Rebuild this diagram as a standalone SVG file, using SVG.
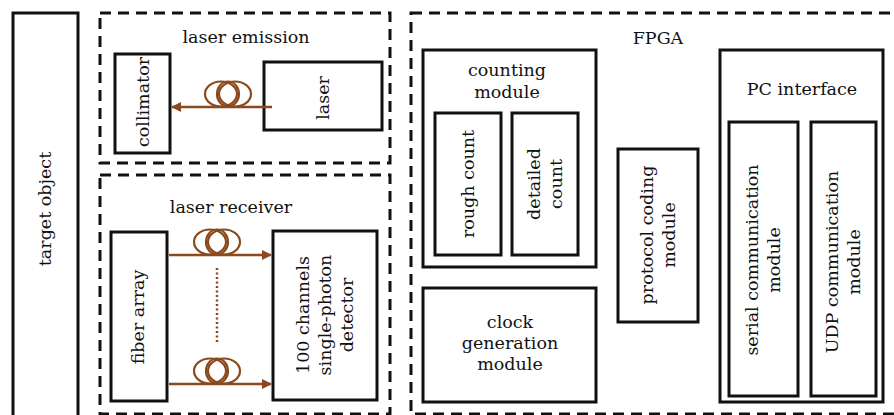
<svg xmlns="http://www.w3.org/2000/svg" width="894" height="415" viewBox="0 0 894 415">
<defs>
<style>
.box{fill:none;stroke:#111;stroke-width:3}
.dash{fill:none;stroke:#111;stroke-width:3;stroke-dasharray:11 7}
.t{font-family:"DejaVu Serif","Liberation Serif",serif;font-size:17.5px;fill:#111;text-anchor:middle}
.fib{fill:none;stroke:#8B4A1E;stroke-width:2.5}
.coil{fill:none;stroke:#8B4A1E;stroke-width:2.2}
</style>
<marker id="ah" viewBox="0 0 10 10" refX="9" refY="5" markerWidth="4" markerHeight="4" orient="auto" markerUnits="strokeWidth">
<path d="M0,0 L10,5 L0,10 z" fill="#8B4A1E"/>
</marker>
<g id="coilsym">
<ellipse class="coil" cx="-7" cy="0" rx="16" ry="12.5"/>
<ellipse class="coil" cx="0" cy="0" rx="11" ry="12.5"/>
<ellipse class="coil" cx="7" cy="0" rx="16" ry="12.5"/>
</g>
</defs>
<rect width="894" height="415" fill="#fff"/>

<g id="target">
<rect class="box" x="13" y="13" width="65" height="404"/>
<text class="t" transform="translate(45,209) rotate(-90)" y="6">target object</text>
</g>

<g id="laser-emission">
<rect class="dash" x="100" y="13" width="290" height="150"/>
<text class="t" x="246" y="43">laser emission</text>
</g>
<g id="collimator">
<rect class="box" x="115" y="54" width="55" height="99"/>
<text class="t" transform="translate(143,102) rotate(-90)" y="6">collimator</text>
</g>
<g id="laser">
<rect class="box" x="264" y="62" width="118" height="68"/>
<text class="t" transform="translate(323,98) rotate(-90)" y="6">laser</text>
</g>

<g id="laser-receiver">
<rect class="dash" x="100" y="175" width="290" height="239"/>
<text class="t" x="231" y="213">laser receiver</text>
</g>
<g id="fiber-array">
<rect class="box" x="111" y="232" width="56" height="169"/>
<text class="t" transform="translate(138,317) rotate(-90)" y="6">fiber array</text>
</g>
<g id="detector">
<rect class="box" x="273" y="231" width="104" height="169"/>
<text class="t" transform="translate(325,315) rotate(-90)"><tspan x="0" y="-16">100 channels</tspan><tspan x="0" y="6">single-photon</tspan><tspan x="0" y="28">detector</tspan></text>
</g>

<g id="fpga">
<rect class="dash" x="411" y="13" width="500" height="401"/>
<text class="t" x="658" y="44">FPGA</text>
</g>
<g id="counting">
<rect class="box" x="423" y="50" width="173" height="217"/>
<text class="t" x="507" y="76">counting</text>
<text class="t" x="507" y="98">module</text>
</g>
<g id="rough">
<rect class="box" x="435" y="113" width="66" height="142"/>
<text class="t" transform="translate(468,184) rotate(-90)" y="6">rough count</text>
</g>
<g id="detailed">
<rect class="box" x="512" y="113" width="66" height="142"/>
<text class="t" transform="translate(545,184) rotate(-90)"><tspan x="0" y="-5">detailed</tspan><tspan x="0" y="17">count</tspan></text>
</g>
<g id="clock">
<rect class="box" x="423" y="288" width="173" height="114"/>
<text class="t" x="510" y="328">clock</text>
<text class="t" x="510" y="349">generation</text>
<text class="t" x="510" y="370">module</text>
</g>
<g id="protocol">
<rect class="box" x="618" y="149" width="80" height="173"/>
<text class="t" transform="translate(658,235) rotate(-90)"><tspan x="0" y="-5">protocol coding</tspan><tspan x="0" y="17">module</tspan></text>
</g>
<g id="pc-interface">
<rect class="box" x="720" y="50" width="163" height="352"/>
<text class="t" x="802" y="95">PC interface</text>
</g>
<g id="serial">
<rect class="box" x="729" y="122" width="69" height="274"/>
<text class="t" transform="translate(763,260) rotate(-90)"><tspan x="0" y="-5">serial communication</tspan><tspan x="0" y="17">module</tspan></text>
</g>
<g id="udp">
<rect class="box" x="811" y="122" width="65" height="274"/>
<text class="t" transform="translate(843,262) rotate(-90)"><tspan x="0" y="-5">UDP communication</tspan><tspan x="0" y="17">module</tspan></text>
</g>

<g id="connectors">
<line class="fib" x1="272" y1="107" x2="172" y2="107" marker-end="url(#ah)"/>
<use href="#coilsym" x="228" y="94"/>
<line class="fib" x1="169" y1="255" x2="271" y2="255" marker-end="url(#ah)"/>
<use href="#coilsym" x="217" y="242"/>
<line class="fib" x1="169" y1="384" x2="271" y2="384" marker-end="url(#ah)"/>
<use href="#coilsym" x="217" y="371"/>
<line x1="217" y1="268" x2="217" y2="343" stroke="#8B4A1E" stroke-width="2.5" stroke-dasharray="2 2.5"/>
</g>
</svg>
